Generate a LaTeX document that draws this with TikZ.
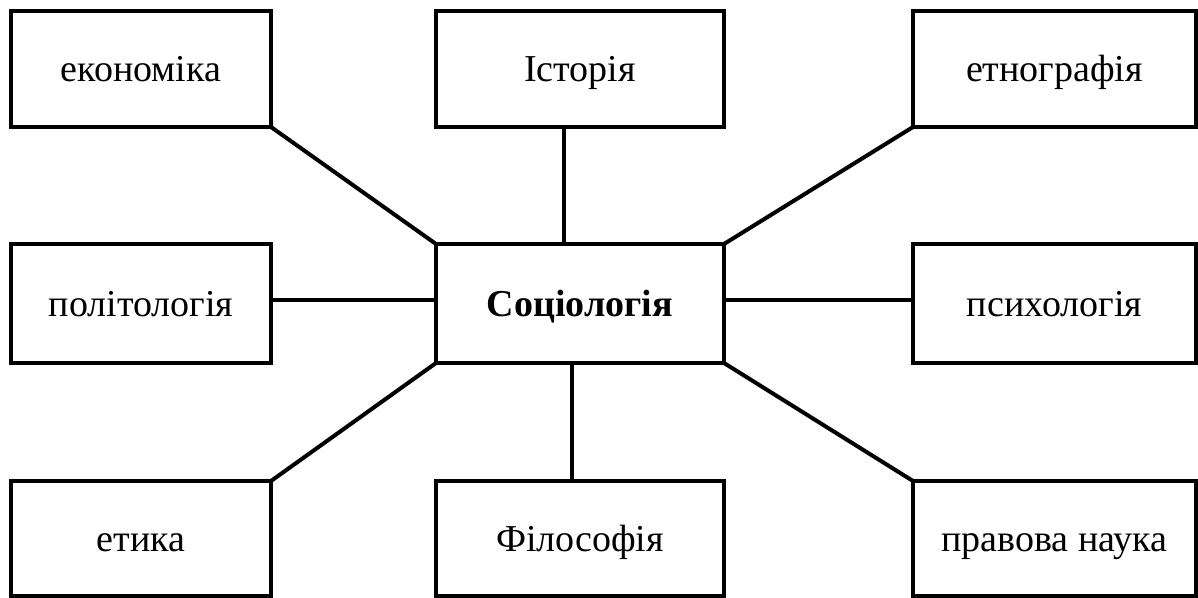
\documentclass[tikz,border=0pt]{standalone}
\usepackage{fontspec}
\setmainfont{Liberation Serif}
\begin{document}
\begin{tikzpicture}[x=0.75pt,y=-0.75pt,
  box/.style={draw=black,line width=3.4pt,outer sep=0pt,inner sep=0pt,
    font=\fontsize{28.5}{34}\selectfont,text height=26.5pt,text depth=7.1pt},
  colL/.style={minimum width=195pt},
  colC/.style={minimum width=216pt},
  colR/.style={minimum width=212.25pt},
  rowT/.style={minimum height=87pt},
  rowM/.style={minimum height=89.25pt},
  rowB/.style={minimum height=86.25pt},
  link/.style={draw=black,line width=3pt}]
\useasboundingbox (0,0) rectangle (1198,598);
\node[box,colL,rowT] (eko) at (141,69) {економіка};
\node[box,colC,rowT] (ist) at (580,69) {Історія};
\node[box,colR,rowT] (etn) at (1054.5,69) {етнографія};
\node[box,colL,rowM] (pol) at (141,303.5) {політологія};
\node[box,colC,rowM] (soc) at (580,303.5) {\textbf{Соціологія}};
\node[box,colR,rowM] (psy) at (1054.5,303.5) {психологія};
\node[box,colL,rowB] (eti) at (141,538.5) {етика};
\node[box,colC,rowB] (fil) at (580,538.5) {Філософія};
\node[box,colR,rowB] (pra) at (1054.5,538.5) {правова наука};
\draw[link] (eko.south east) -- (soc.north west);
\draw[link] ([xshift=-12pt]ist.south) -- ([xshift=-12pt]soc.north);
\draw[link] (etn.south west) -- (soc.north east);
\draw[link] ([yshift=2.6pt]pol.east) -- ([yshift=2.6pt]soc.west);
\draw[link] ([yshift=2.6pt]psy.west) -- ([yshift=2.6pt]soc.east);
\draw[link] (eti.north east) -- (soc.south west);
\draw[link] ([xshift=-6pt]fil.north) -- ([xshift=-6pt]soc.south);
\draw[link] (pra.north west) -- (soc.south east);
\end{tikzpicture}
\end{document}
